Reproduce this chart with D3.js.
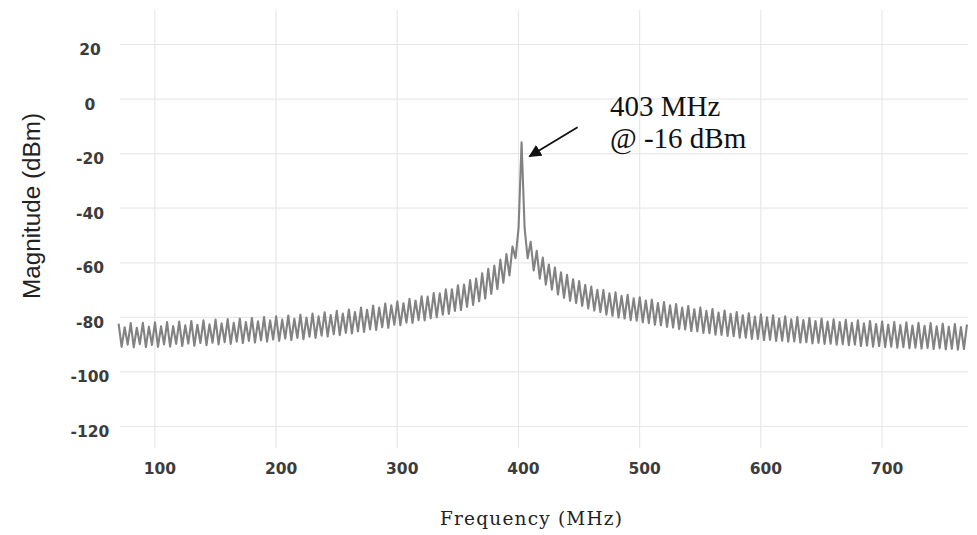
<!DOCTYPE html>
<html>
<head>
<meta charset="utf-8">
<script src="https://cdn.jsdelivr.net/npm/d3@7/dist/d3.min.js"></script>
<style>
  html, body { margin: 0; padding: 0; background: #ffffff; }
  svg { display: block; }
</style>
</head>
<body>
<svg id="chart" width="977" height="535"></svg>
<script>
// Spectrum analyser sweep: start frequency and bin spacing (MHz)
const sweepStartMHz = 70.5;
const sweepStepMHz = 2.5;

// Measured magnitude per bin (dBm)
const magnitudeDbm = [
  -82.5, -91.0, -83.8, -90.2, -82.3, -91.2, -84.0, -90.0, -82.2, -91.1,
  -83.6, -90.3, -82.0, -91.0, -83.5, -90.1, -81.9, -90.9, -83.4, -89.9,
  -81.7, -90.7, -83.1, -89.8, -81.5, -90.6, -82.9, -89.6, -81.3, -90.4,
  -82.7, -89.5, -81.0, -90.1, -82.4, -89.3, -80.8, -89.9, -82.2, -89.1,
  -80.6, -89.6, -81.9, -88.8, -80.4, -89.4, -81.6, -88.6, -80.1, -89.1,
  -81.3, -88.3, -79.8, -88.8, -81.0, -88.0, -79.5, -88.5, -80.7, -87.7,
  -79.2, -88.2, -80.3, -87.3, -78.8, -87.7, -79.8, -86.9, -78.3, -87.2,
  -79.3, -86.4, -77.8, -86.7, -78.8, -85.9, -77.3, -86.1, -78.2, -85.3,
  -76.6, -85.5, -77.4, -84.6, -75.9, -84.8, -76.6, -83.8, -75.1, -84.0,
  -75.8, -82.9, -74.3, -83.1, -75.0, -82.1, -73.4, -82.2, -74.0, -81.2,
  -72.5, -81.3, -72.6, -80.5, -71.3, -80.1, -71.4, -79.2, -69.9, -78.9,
  -69.9, -77.8, -68.4, -77.5, -68.2, -76.3, -66.5, -75.6, -66.0, -74.3,
  -64.0, -73.3, -62.4, -71.6, -61.2, -69.8, -59.0, -67.5, -57.0, -64.8,
  -54.2, -58.5, -47.5, -16.0, -47.5, -58.5, -52.5, -63.0, -55.8, -66.0,
  -58.3, -68.2, -60.8, -70.0, -61.9, -71.8, -63.7, -73.0, -64.6, -74.1,
  -66.2, -75.0, -66.9, -76.0, -68.3, -76.9, -68.9, -77.7, -70.1, -78.3,
  -70.2, -79.2, -71.4, -79.6, -71.0, -80.3, -72.3, -80.6, -71.9, -81.2,
  -73.2, -81.4, -72.8, -82.0, -74.0, -82.3, -73.7, -82.9, -74.9, -83.1,
  -74.6, -83.7, -75.8, -83.9, -75.3, -84.5, -76.6, -84.6, -76.0, -85.2,
  -77.2, -85.3, -76.6, -85.9, -77.8, -86.0, -77.1, -86.5, -78.4, -86.6,
  -77.7, -87.0, -78.9, -87.1, -78.2, -87.6, -79.4, -87.6, -78.7, -88.1,
  -79.9, -88.1, -79.1, -88.5, -80.2, -88.4, -79.4, -88.8, -80.6, -88.7,
  -79.8, -89.1, -80.9, -89.0, -80.1, -89.4, -81.2, -89.3, -80.4, -89.7,
  -81.5, -89.5, -80.6, -89.9, -81.7, -89.8, -80.9, -90.2, -81.9, -90.0,
  -81.1, -90.4, -82.2, -90.2, -81.3, -90.7, -82.4, -90.5, -81.5, -90.9,
  -82.6, -90.7, -81.7, -91.1, -82.8, -90.9, -81.9, -91.3, -83.0, -91.1,
  -82.0, -91.5, -83.2, -91.3, -82.2, -91.6, -83.3, -91.4, -82.3, -91.8,
  -83.5, -91.5, -82.5, -91.9, -83.6, -91.7, -82.6, -92.0, -83.7, -91.8,
  -82.8
];

// Axis ticks
const freqTicks = [100, 200, 300, 400, 500, 600, 700];
const magTicks = [20, 0, -20, -40, -60, -80, -100, -120];

// Marker annotation
const markerFreqMHz = 403;
const markerLevelDbm = -16;
const markerLines = [markerFreqMHz + " MHz", "@ " + markerLevelDbm + " dBm"];

const svg = d3.select("#chart");
const W = 977, H = 535;
const plot = { left: 120, right: 968, top: 10, bottom: 448 };

svg.append("rect").attr("width", W).attr("height", H).attr("fill", "#ffffff");

const x = d3.scaleLinear().domain([70, 773]).range([118, 970]);
const y = d3.scaleLinear().domain([-120, 20]).range([426, 44]);

const tickFont = "'DejaVu Sans', Verdana, sans-serif";

// Vertical grid + frequency labels
const xAxis = svg.append("g")
  .attr("transform", `translate(0,${plot.bottom})`)
  .call(d3.axisBottom(x)
    .tickValues(freqTicks)
    .tickSize(-(plot.bottom - plot.top))
    .tickFormat(d => String(d)));
xAxis.select(".domain").remove();
xAxis.selectAll(".tick line").attr("stroke", "#e8e8e8").attr("stroke-width", 1.2);
xAxis.selectAll(".tick text")
  .attr("x", 5)
  .attr("y", 20)
  .attr("dy", "0.36em")
  .attr("fill", "#3c3c3c")
  .style("font-family", tickFont)
  .style("font-weight", "bold")
  .style("font-size", "15.5px");

// Horizontal grid + magnitude labels
const yAxis = svg.append("g")
  .attr("transform", `translate(${plot.left},0)`)
  .call(d3.axisLeft(y)
    .tickValues(magTicks)
    .tickSize(-(plot.right - plot.left))
    .tickFormat(d => String(d)));
yAxis.select(".domain").remove();
yAxis.selectAll(".tick line").attr("stroke", "#e8e8e8").attr("stroke-width", 1.2);
yAxis.selectAll(".tick text")
  .attr("x", -30)
  .attr("dy", "0.68em")
  .attr("text-anchor", "middle")
  .attr("fill", "#3c3c3c")
  .style("font-family", tickFont)
  .style("font-weight", "bold")
  .style("font-size", "15.5px");

// Spectrum trace
const trace = magnitudeDbm.map((v, i) => ({ f: sweepStartMHz + i * sweepStepMHz, v }));
svg.append("path")
  .datum(trace)
  .attr("fill", "none")
  .attr("stroke", "#828282")
  .attr("stroke-width", 2.1)
  .attr("stroke-linejoin", "round")
  .attr("d", d3.line().x(d => x(d.f)).y(d => y(d.v)));

// Axis titles
svg.append("text")
  .attr("transform", "translate(40,206) rotate(-90)")
  .attr("text-anchor", "middle")
  .attr("fill", "#222")
  .attr("textLength", 186)
  .attr("lengthAdjust", "spacingAndGlyphs")
  .style("font-family", "'Liberation Sans', Arial, sans-serif")
  .style("font-size", "23px")
  .text("Magnitude (dBm)");

svg.append("text")
  .attr("x", 531)
  .attr("y", 525)
  .attr("text-anchor", "middle")
  .attr("fill", "#222")
  .attr("textLength", 182)
  .attr("lengthAdjust", "spacing")
  .style("font-family", "'DejaVu Serif', Georgia, serif")
  .style("font-size", "18.5px")
  .text("Frequency (MHz)");

// Marker arrow and label
const defs = svg.append("defs");
defs.append("marker")
  .attr("id", "arrowHead")
  .attr("viewBox", "0 0 10 10")
  .attr("refX", 9)
  .attr("refY", 5)
  .attr("markerWidth", 7)
  .attr("markerHeight", 7)
  .attr("markerUnits", "strokeWidth")
  .attr("orient", "auto")
  .append("path")
  .attr("d", "M0,0 L10,5 L0,10 Z")
  .attr("fill", "#111");

const tipX = x(markerFreqMHz) + 8, tipY = y(markerLevelDbm) + 14;
svg.append("line")
  .attr("x1", tipX + 48).attr("y1", tipY - 29)
  .attr("x2", tipX).attr("y2", tipY)
  .attr("stroke", "#111")
  .attr("stroke-width", 1.8)
  .attr("marker-end", "url(#arrowHead)");

svg.append("g")
  .selectAll("text")
  .data(markerLines)
  .join("text")
  .attr("x", 610)
  .attr("y", (d, i) => 116 + i * 32)
  .attr("fill", "#111")
  .style("font-family", "'Liberation Serif', 'Times New Roman', serif")
  .style("font-size", "29px")
  .text(d => d);
</script>
</body>
</html>
